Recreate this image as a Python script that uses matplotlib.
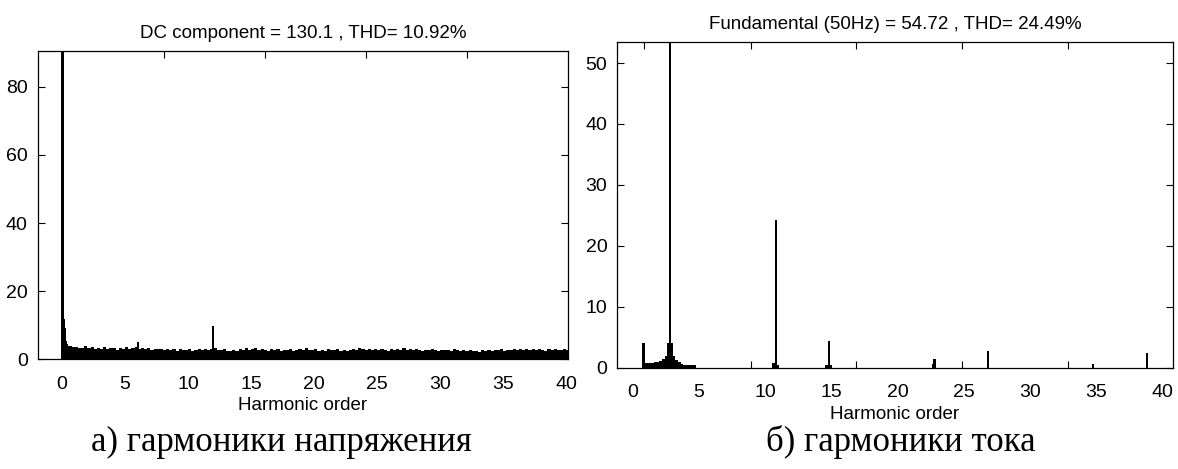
import numpy as np
import matplotlib
matplotlib.use("Agg")
import matplotlib.pyplot as plt
from matplotlib import font_manager

# ---- data ----
# a) voltage harmonics
v_dc = 130.1
v_decay_x = [0.1, 0.2, 0.3, 0.4]
v_decay_h = [12.0, 9.2, 5.5, 4.5]
v_spike_x = [6.0, 12.0]
v_spike_h = [5.0, 9.7]
v_floor_start = 0.5
v_floor_step = 0.25
v_floor = [
    4.0, 3.6, 3.8, 3.4, 3.5, 3.9, 3.3, 3.6,
    3.2, 3.5, 3.0, 3.7, 3.1, 3.4, 3.3, 2.9,
    3.5, 3.1, 3.6, 3.2, 3.3, 3.8, 3.0, 3.4,
    3.1, 3.3, 2.9, 3.2, 3.0, 3.1, 2.8, 3.0,
    2.9, 3.1, 2.6, 3.0, 2.7, 2.9, 3.1, 2.6,
    2.8, 3.0, 2.7, 3.1, 2.9, 3.0, 3.3, 2.8,
    2.7, 3.0, 2.6, 2.4, 2.8, 2.5, 3.1, 2.9,
    3.3, 2.8, 3.0, 3.4, 2.7, 3.2, 2.9, 2.6,
    3.0, 2.7, 3.2, 2.6, 2.9, 2.8, 3.1, 2.5,
    2.7, 3.0, 2.8, 3.3, 2.9, 2.7, 3.0, 2.6,
    2.8, 2.5, 3.0, 2.7, 2.9, 3.2, 2.6, 2.8,
    2.6, 2.9, 3.1, 2.7, 3.3, 3.0, 2.8, 3.2,
    2.9, 3.1, 2.7, 3.0, 2.8, 2.6, 3.0, 2.7,
    3.2, 2.8, 3.5, 2.9, 3.0, 2.7, 3.1, 2.8,
    2.6, 2.9, 2.7, 3.0, 2.8, 2.5, 2.9, 2.7,
    2.8, 2.6, 3.0, 2.7, 2.5, 2.8, 2.6, 2.9,
    2.4, 2.6, 2.3, 2.7, 2.5, 2.8, 2.6, 2.9,
    2.7, 3.0, 2.6, 2.9, 2.8, 3.1, 2.7, 3.0,
    2.9, 3.2, 2.8, 3.0, 2.7, 3.1, 2.9, 2.6,
    3.0, 2.8, 3.1, 2.7, 2.9, 3.2, 2.8, 3.0,
]

# b) current harmonics
i_spike_x = [0.8, 2.8, 10.8, 14.8, 22.8, 26.85, 34.8, 38.85]
i_spike_h = [4.0, 54.72, 24.25, 4.4, 1.4, 2.7, 0.55, 2.35]
i_skirt_x = [0.9, 1.1, 1.3, 1.5, 1.7, 1.9, 2.1, 2.3, 2.5, 2.7, 2.9,
             3.1, 3.3, 3.5, 3.7, 3.9, 4.1, 4.3, 4.5, 4.7, 10.65, 10.95,
             14.65, 14.95, 22.7]
i_skirt_h = [0.8, 0.8, 0.8, 0.85, 0.9, 1.0, 1.1, 1.4, 2.0, 4.1, 4.0,
             2.0, 1.3, 0.9, 0.6, 0.5, 0.5, 0.45, 0.45, 0.4, 0.7, 0.5,
             0.5, 0.4, 0.6]

tick_labels = [0, 5, 10, 15, 20, 25, 30, 35, 40]
v_marks = [8.1, 16.1, 24.1, 32.1]
i_marks = [0.85, 8.9, 16.9, 24.9, 32.9]

names = {f.name for f in font_manager.fontManager.ttflist}
if "Liberation Sans Narrow" in names:
    tick_font, tick_size = "Liberation Sans Narrow", 17
else:
    tick_font, tick_size = "Liberation Sans", 14

fig = plt.figure(figsize=(11.78, 4.69), dpi=100)
ax1 = fig.add_axes([0.0319, 0.2335, 0.4504, 0.6578])
ax2 = fig.add_axes([0.5238, 0.216, 0.472, 0.695])


def style(ax, xlim, ylim, yticks, marks, title):
    ax.set_xlim(*xlim)
    ax.set_ylim(*ylim)
    ax.set_xticks(tick_labels)
    ax.set_xticks(marks, minor=True)
    ax.set_yticks(yticks)
    ax.tick_params(axis="x", which="major", length=0, pad=12)
    ax.tick_params(axis="x", which="minor", direction="in", length=5,
                   width=0.8, top=True, bottom=True)
    ax.tick_params(axis="y", direction="in", length=5, width=0.8,
                   left=True, right=True, pad=7)
    for lab in ax.get_xticklabels() + ax.get_yticklabels():
        lab.set_fontfamily(tick_font)
        lab.set_fontsize(tick_size)
    for s in ax.spines.values():
        s.set_linewidth(0.9)
    ax.set_title(title, fontsize=13.5, family="Liberation Sans", pad=9)
    ax.set_xlabel("Harmonic order", fontsize=13.5, family="Liberation Sans",
                  labelpad=3)


# a) voltage
floor_x = v_floor_start + v_floor_step * np.arange(len(v_floor))
ax1.bar(floor_x, v_floor, width=v_floor_step, align="edge", color="black", linewidth=0)
ax1.bar(v_decay_x, v_decay_h, width=0.1, align="edge", color="black", linewidth=0)
ax1.bar([0], [v_dc], width=0.22, color="black", linewidth=0)
ax1.bar(v_spike_x, v_spike_h, width=0.16, color="black", linewidth=0)
style(ax1, (-1.95, 40.15), (0, 90.5), [0, 20, 40, 60, 80], v_marks,
      "DC component = 130.1 , THD= 10.92%")

# b) current
ax2.bar(i_skirt_x, i_skirt_h, width=0.2, color="black", linewidth=0)
ax2.bar(i_spike_x, i_spike_h, width=0.16, color="black", linewidth=0)
style(ax2, (-1.2, 40.83), (0, 53.5), [0, 10, 20, 30, 40, 50], i_marks,
      "Fundamental (50Hz) = 54.72 , THD= 24.49%")

fig.text(0.2385, 0.057, "а) гармоники напряжения", ha="center", va="center",
         family="Liberation Serif", fontsize=25)
fig.text(0.765, 0.057, "б) гармоники тока", ha="center", va="center",
         family="Liberation Serif", fontsize=25)

fig.savefig("out.png", dpi=100)
